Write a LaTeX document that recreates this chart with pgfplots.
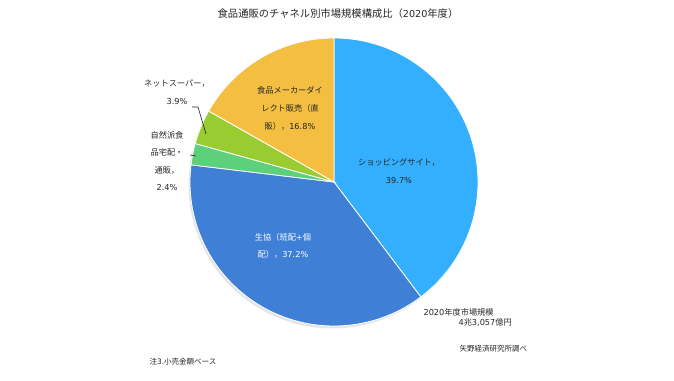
\documentclass[border=0pt]{standalone}
\usepackage{pgfplots}
\pgfplotsset{compat=1.18}
\usepackage{fontspec}
\setmainfont{Noto Sans CJK JP}
\newfontfamily\lat{DejaVu Sans}
\definecolor{cShop}{HTML}{34AFFD}
\definecolor{cCoop}{HTML}{3F7FD5}
\definecolor{cNat}{HTML}{5CD07B}
\definecolor{cNet}{HTML}{99CC30}
\definecolor{cMaker}{HTML}{F4BE41}
\definecolor{txt}{HTML}{262626}
% shares (%), clockwise from 12 o'clock
\def\pShop{39.7}
\def\pCoop{37.2}
\def\pNat{2.4}
\def\pNet{3.9}
\def\pMaker{16.8}
\def\cx{334}
\def\cy{198}
\def\rr{144}
\begin{document}
\begin{tikzpicture}
\begin{axis}[
  width=674pt, height=380pt, scale only axis,
  xmin=0, xmax=674, ymin=0, ymax=380,
  hide axis, clip=false,
]
\path (axis cs:0,0) rectangle (axis cs:674,380);
% faint shadow
\addplot[fill=black!10, draw=none, domain=0:360, samples=120] ({\cx-1.5+\rr*cos(x)},{\cy-2.5+\rr*sin(x)}) -- cycle;
% wedges
\pgfmathsetmacro{\aA}{90}
\pgfmathsetmacro{\aB}{90-3.6*\pShop}
\pgfmathsetmacro{\aC}{\aB-3.6*\pCoop}
\pgfmathsetmacro{\aD}{\aC-3.6*\pNat}
\pgfmathsetmacro{\aE}{\aD-3.6*\pNet}
\pgfmathsetmacro{\aF}{\aE-3.6*\pMaker}
\addplot[fill=cShop, draw=white, line width=0.8pt, domain=\aB:\aA, samples=80] ({\cx+\rr*cos(x)},{\cy+\rr*sin(x)}) -- (axis cs:\cx,\cy) -- cycle;
\addplot[fill=cCoop, draw=white, line width=0.8pt, domain=\aC:\aB, samples=80] ({\cx+\rr*cos(x)},{\cy+\rr*sin(x)}) -- (axis cs:\cx,\cy) -- cycle;
\addplot[fill=cNat, draw=white, line width=0.8pt, domain=\aD:\aC, samples=10] ({\cx+\rr*cos(x)},{\cy+\rr*sin(x)}) -- (axis cs:\cx,\cy) -- cycle;
\addplot[fill=cNet, draw=white, line width=0.8pt, domain=\aE:\aD, samples=10] ({\cx+\rr*cos(x)},{\cy+\rr*sin(x)}) -- (axis cs:\cx,\cy) -- cycle;
\addplot[fill=cMaker, draw=white, line width=0.8pt, domain=\aF:\aE, samples=60] ({\cx+\rr*cos(x)},{\cy+\rr*sin(x)}) -- (axis cs:\cx,\cy) -- cycle;
% leader lines
\addplot[txt, line width=0.6pt] coordinates {(192,273) (198,273) (206,246)};
\addplot[txt, line width=0.6pt] coordinates {(190,225) (196,224)};
% texts
\node[txt, font=\fontsize{10.3}{12}\selectfont] at (axis cs:338,366) {食品通販のチャネル別市場規模構成比（{\lat\fontsize{9.6}{12}\selectfont 2020}年度）};
\node[txt, font=\fontsize{8.2}{17.5}\selectfont, align=center] at (axis cs:399,209) {ショッピングサイト，\\{\lat 39.7\%}};
\node[white, font=\fontsize{8.2}{17.5}\selectfont, align=center] at (axis cs:283,134) {生協（班配{\lat +}個\\配），{\lat 37.2\%}};
\node[txt, font=\fontsize{8.2}{18}\selectfont, align=center] at (axis cs:290,272) {食品メーカーダイ\\レクト販売（直\\販），{\lat 16.8\%}};
\node[txt, font=\fontsize{8.2}{18}\selectfont, align=center] at (axis cs:177,288) {ネットスーパー，\\{\lat 3.9\%}};
\node[txt, font=\fontsize{8.2}{17.5}\selectfont, align=center] at (axis cs:167,219) {自然派食\\品宅配・\\通販，\\{\lat 2.4\%}};
\node[txt, font=\fontsize{8.2}{10}\selectfont, anchor=west] at (axis cs:420,68) {{\lat 2020}年度市場規模};
\node[txt, font=\fontsize{8.2}{10}\selectfont, anchor=west] at (axis cs:455,57) {{\lat 4}兆{\lat 3,057}億円};
\node[txt, font=\fontsize{7.5}{10}\selectfont, anchor=west] at (axis cs:456,31) {矢野経済研究所調べ};
\node[txt, font=\fontsize{7.5}{10}\selectfont, anchor=west] at (axis cs:146,18) {注{\lat 3.}小売金額ベース};
\end{axis}
\end{tikzpicture}
\end{document}
